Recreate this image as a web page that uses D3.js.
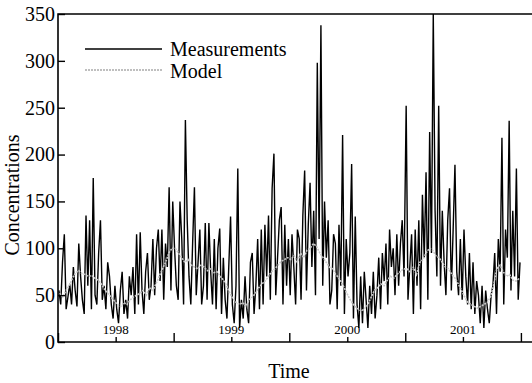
<!DOCTYPE html>
<html>
<head>
<meta charset="utf-8">
<script src="https://cdn.jsdelivr.net/npm/d3@7"></script>
<style>
  body { margin: 0; background: #fff; }
  text { font-family: 'Liberation Serif', 'Times New Roman', serif; fill: #000; }
</style>
</head>
<body>
<div id="graph"></div>
<script>
const w = 532;
const h = 383;

// measurements, 64 samples per year
const meas1998 = [55, 40, 85, 115, 35, 48, 62, 40, 80, 55,
                  38, 105, 70, 45, 30, 135, 60, 130, 35, 175,
                  50, 40, 95, 130, 45, 60, 35, 85, 70, 40,
                  25, 60, 35, 20, 55, 75, 30, 45, 25, 70,
                  50, 80, 30, 115, 40, 117, 55, 30, 75, 95,
                  45, 60, 110, 50, 100, 120, 65, 120, 45, 105,
                  80, 165, 55, 150];
const meas1999 = [100, 60, 45, 150, 110, 40, 237, 130, 70, 40,
                  105, 165, 50, 85, 120, 40, 60, 127, 45, 127,
                  75, 40, 110, 35, 100, 121, 30, 90, 45, 25,
                  80, 134, 40, 20, 60, 185, 15, 45, 25, 70,
                  35, 20, 85, 95, 30, 60, 110, 35, 120, 40,
                  125, 70, 135, 45, 164, 201, 50, 90, 130, 144,
                  40, 125, 60, 110];
const meas2000 = [50, 115, 80, 40, 120, 110, 45, 135, 183, 55,
                  125, 170, 80, 140, 50, 298, 110, 338, 60, 150,
                  90, 130, 40, 55, 115, 105, 35, 125, 60, 221,
                  30, 110, 70, 95, 190, 25, 134, 40, 15, 70,
                  20, 75, 45, 15, 60, 30, 75, 25, 50, 90,
                  35, 95, 65, 105, 40, 120, 80, 100, 50, 115,
                  60, 105, 130, 70];
const meas2001 = [252, 45, 80, 115, 30, 120, 60, 130, 35, 157,
                  90, 181, 45, 224, 95, 350, 140, 70, 252, 60,
                  140, 85, 50, 130, 164, 55, 120, 189, 75, 50,
                  110, 45, 120, 70, 40, 95, 35, 85, 30, 65,
                  50, 20, 60, 15, 55, 35, 20, 50, 60, 95,
                  30, 110, 75, 218, 40, 120, 90, 236, 55, 140,
                  70, 185, 45, 85];

// model, 36 samples per year
const model1998 = [52, 48, 55, 60, 68, 74, 76, 73, 72, 70, 71, 68, 66, 62, 56, 52, 48, 44,
                   40, 38, 42, 40, 45, 48, 50, 52, 55, 50, 58, 55, 62, 70, 78, 85, 95, 100];
const model1999 = [100, 95, 90, 85, 88, 82, 80, 78, 82, 80, 76, 78, 74, 75, 70, 66, 60, 52,
                   46, 42, 40, 42, 38, 45, 48, 52, 58, 62, 65, 70, 75, 78, 82, 86, 88, 90];
const model2000 = [88, 92, 85, 95, 90, 98, 100, 105, 102, 95, 90, 85, 80, 78, 72, 68, 62, 55,
                   48, 42, 38, 35, 33, 36, 40, 48, 55, 58, 62, 60, 66, 70, 68, 72, 75, 78];
const model2001 = [78, 75, 80, 72, 85, 88, 95, 100, 98, 92, 90, 85, 80, 78, 72, 68, 62, 55,
                   48, 42, 40, 38, 36, 38, 40, 42, 48, 60, 78, 82, 75, 70, 72, 66, 65, 68];

const years = [1998, 1999, 2000, 2001];
const yTicks = [0, 50, 100, 150, 200, 250, 300, 350];

const day = 864e5;
function toSeries(arrays) {
  let out = [];
  arrays.forEach(function (arr, k) {
    const start = Date.UTC(years[k], 0, 1);
    const step = 365 * day / arr.length;
    arr.forEach(function (v, i) {
      out.push([new Date(start + (i + 0.5) * step), v]);
    });
  });
  return out;
}

const measurements = toSeries([meas1998, meas1999, meas2000, meas2001]);
const model = toSeries([model1998, model1999, model2000, model2001]);

const pLeft = 58, pRight = 532, pTop = 14, pBottom = 342;

const xScale = d3.scaleUtc()
                 .domain([new Date(Date.UTC(1998, 0, 1)), new Date(Date.UTC(2002, 1, 5))])
                 .range([pLeft, pRight]);

const yScale = d3.scaleLinear()
                 .domain([0, 350])
                 .range([pBottom, pTop]);

const svg = d3.select('#graph')
              .append('svg')
              .attr('width', w)
              .attr('height', h);

svg.append('defs').append('clipPath')
   .attr('id', 'plot')
   .append('rect')
   .attr('x', pLeft).attr('y', pTop)
   .attr('width', pRight - pLeft).attr('height', pBottom - pTop);

const line = d3.line()
               .x((d) => xScale(d[0]))
               .y((d) => yScale(d[1]));

svg.append('path')
   .datum(measurements)
   .attr('clip-path', 'url(#plot)')
   .attr('fill', 'none')
   .attr('stroke', '#000')
   .attr('stroke-width', 1.4)
   .attr('d', line);

svg.append('path')
   .datum(model)
   .attr('clip-path', 'url(#plot)')
   .attr('fill', 'none')
   .attr('stroke', '#c8c8c8')
   .attr('stroke-width', 1.6)
   .attr('stroke-dasharray', '2,1')
   .attr('d', line);

// frame
svg.append('path')
   .attr('fill', 'none')
   .attr('stroke', '#000')
   .attr('stroke-width', 1.6)
   .attr('d', 'M' + pRight + ',' + pTop + 'H' + pLeft + 'V' + pBottom + 'H' + pRight);

// y axis
const yAxis = svg.append('g')
   .attr('transform', 'translate(' + pLeft + ',0)')
   .call(d3.axisLeft(yScale).tickValues(yTicks).tickSize(-7).tickPadding(3));
yAxis.select('.domain').remove();
yAxis.selectAll('line').attr('stroke', '#000').attr('stroke-width', 1.4);
yAxis.selectAll('text')
     .style('font-family', "'Liberation Serif', serif")
     .style('font-size', '20px')
     .attr('fill', '#000');

// x axis: year boundaries and mid-year ticks pointing into the plot
const yearStarts = years.concat([2002]).map((y) => new Date(Date.UTC(y, 0, 1)));
const midYears = years.map((y) => new Date(Date.UTC(y, 6, 2)));

const xAxis = svg.append('g')
   .attr('transform', 'translate(0,' + pBottom + ')');
xAxis.append('g')
     .call(d3.axisBottom(xScale).tickValues(yearStarts).tickSize(-9).tickFormat(''));
xAxis.append('g')
     .call(d3.axisBottom(xScale).tickValues(midYears).tickSize(-5).tickFormat(''));
xAxis.selectAll('.domain').remove();
xAxis.selectAll('line').attr('stroke', '#000').attr('stroke-width', 1.4);

svg.selectAll('.yearLabel')
   .data(midYears)
   .enter()
   .append('text')
   .attr('class', 'yearLabel')
   .attr('x', (d) => xScale(d))
   .attr('y', pBottom - 8)
   .attr('text-anchor', 'middle')
   .style('font-size', '13px')
   .text((d) => d.getUTCFullYear());

// labels
svg.append('text')
   .attr('x', 289)
   .attr('y', 378)
   .attr('text-anchor', 'middle')
   .style('font-size', '20px')
   .text('Time');

svg.append('text')
   .attr('text-anchor', 'middle')
   .attr('transform', 'translate(19,' + 195 + ')rotate(-90)')
   .style('font-size', '20px')
   .text('Concentrations');

// legend
svg.append('line')
   .attr('x1', 85).attr('x2', 162)
   .attr('y1', 49).attr('y2', 49)
   .attr('stroke', '#000')
   .attr('stroke-width', 1.3);
svg.append('line')
   .attr('x1', 85).attr('x2', 162)
   .attr('y1', 70).attr('y2', 70)
   .attr('stroke', '#aaa')
   .attr('stroke-width', 1.3)
   .attr('stroke-dasharray', '2,1');

svg.append('text')
   .attr('x', 170)
   .attr('y', 56)
   .style('font-size', '20px')
   .text('Measurements');
svg.append('text')
   .attr('x', 170)
   .attr('y', 78)
   .style('font-size', '20px')
   .text('Model');
</script>
</body>
</html>
